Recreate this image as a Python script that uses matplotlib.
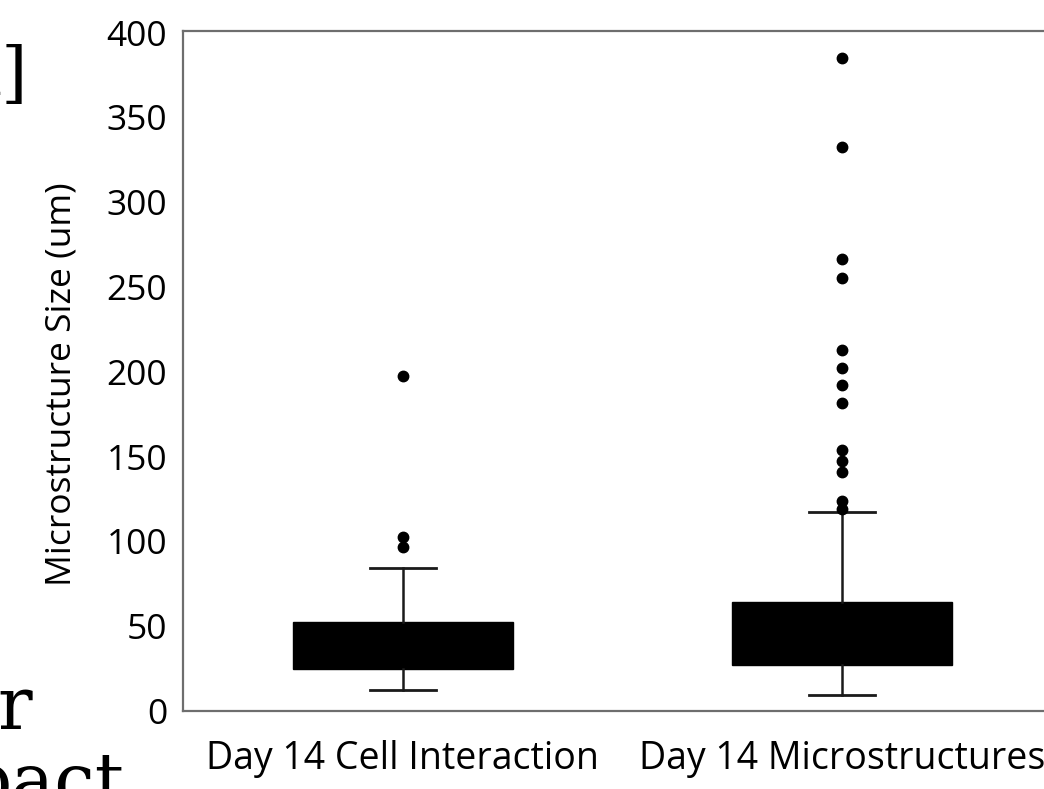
import matplotlib
matplotlib.use("Agg")
import matplotlib.pyplot as plt

# ---- data ----
categories = ["Day 14 Cell Interaction", "Day 14 Microstructures"]
q1 = [24.8, 27.1]
q3 = [52.5, 64.3]
med = [38.0, 45.0]
whis_lo = [12.4, 9.4]
whis_hi = [84.4, 117.4]
fliers_cell = [197.6, 102.6, 96.8]
fliers_micro = [385.3, 332.7, 266.7, 255.5, 213.0, 202.4, 192.3, 181.7,
                154.0, 147.5, 141.0, 123.9, 119.2]
yticks = [0, 50, 100, 150, 200, 250, 300, 350, 400]
ylabel = "Microstructure Size (um)"

plt.rcParams['font.family'] = ['Open Sans', 'DejaVu Sans']

W, H = 1044, 789
fig = plt.figure(figsize=(W / 100, H / 100), dpi=100)
ax = fig.add_axes([183 / W, 1 - 711 / H, (1062 - 183) / W, (711 - 31) / H])

fliers = [fliers_cell, fliers_micro]
stats = []
for i, name in enumerate(categories):
    stats.append(dict(label=name, q1=q1[i], q3=q3[i], med=med[i],
                      whislo=whis_lo[i], whishi=whis_hi[i], fliers=fliers[i]))

ax.bxp(stats, positions=[1, 2], widths=0.5, capwidths=0.15, patch_artist=True,
       showfliers=True,
       boxprops=dict(facecolor='black', edgecolor='black', linewidth=1),
       medianprops=dict(color='black', linewidth=0),
       whiskerprops=dict(color='#1a1a1a', linewidth=1.8),
       capprops=dict(color='#1a1a1a', linewidth=2.0),
       flierprops=dict(marker='o', markerfacecolor='black',
                       markeredgecolor='black', markersize=7.5))

ax.set_xlim(0.5, 2.5)
ax.set_ylim(0, 401)
ax.set_yticks(yticks)
ax.set_yticklabels([str(t) for t in yticks], fontsize=25.5)
ax.set_xticks([1, 2])
ax.set_xticklabels(categories, fontsize=27)
ax.tick_params(axis='both', length=0)
ax.tick_params(axis='y', pad=11.5)
ax.tick_params(axis='x', pad=21)

fig.text(62 / W, 1 - 384 / H, ylabel, fontsize=25.5, rotation=90,
         ha='center', va='center')

for s in ax.spines.values():
    s.set_color('#6e6e6e')
    s.set_linewidth(1.6)

# fragments of surrounding document text (cropped)
serif = ['DejaVu Serif']
fig.text(27 / W, 1 - 95 / H, "l]", fontsize=48, family=serif, ha='right', va='baseline')
fig.text(32 / W, 1 - 729 / H, "r", fontsize=52, family=serif, ha='right', va='baseline')
fig.text(125 / W, 1 - 805 / H, "pact", fontsize=52, family=serif, ha='right', va='baseline')

fig.savefig("out.png", dpi=100)
